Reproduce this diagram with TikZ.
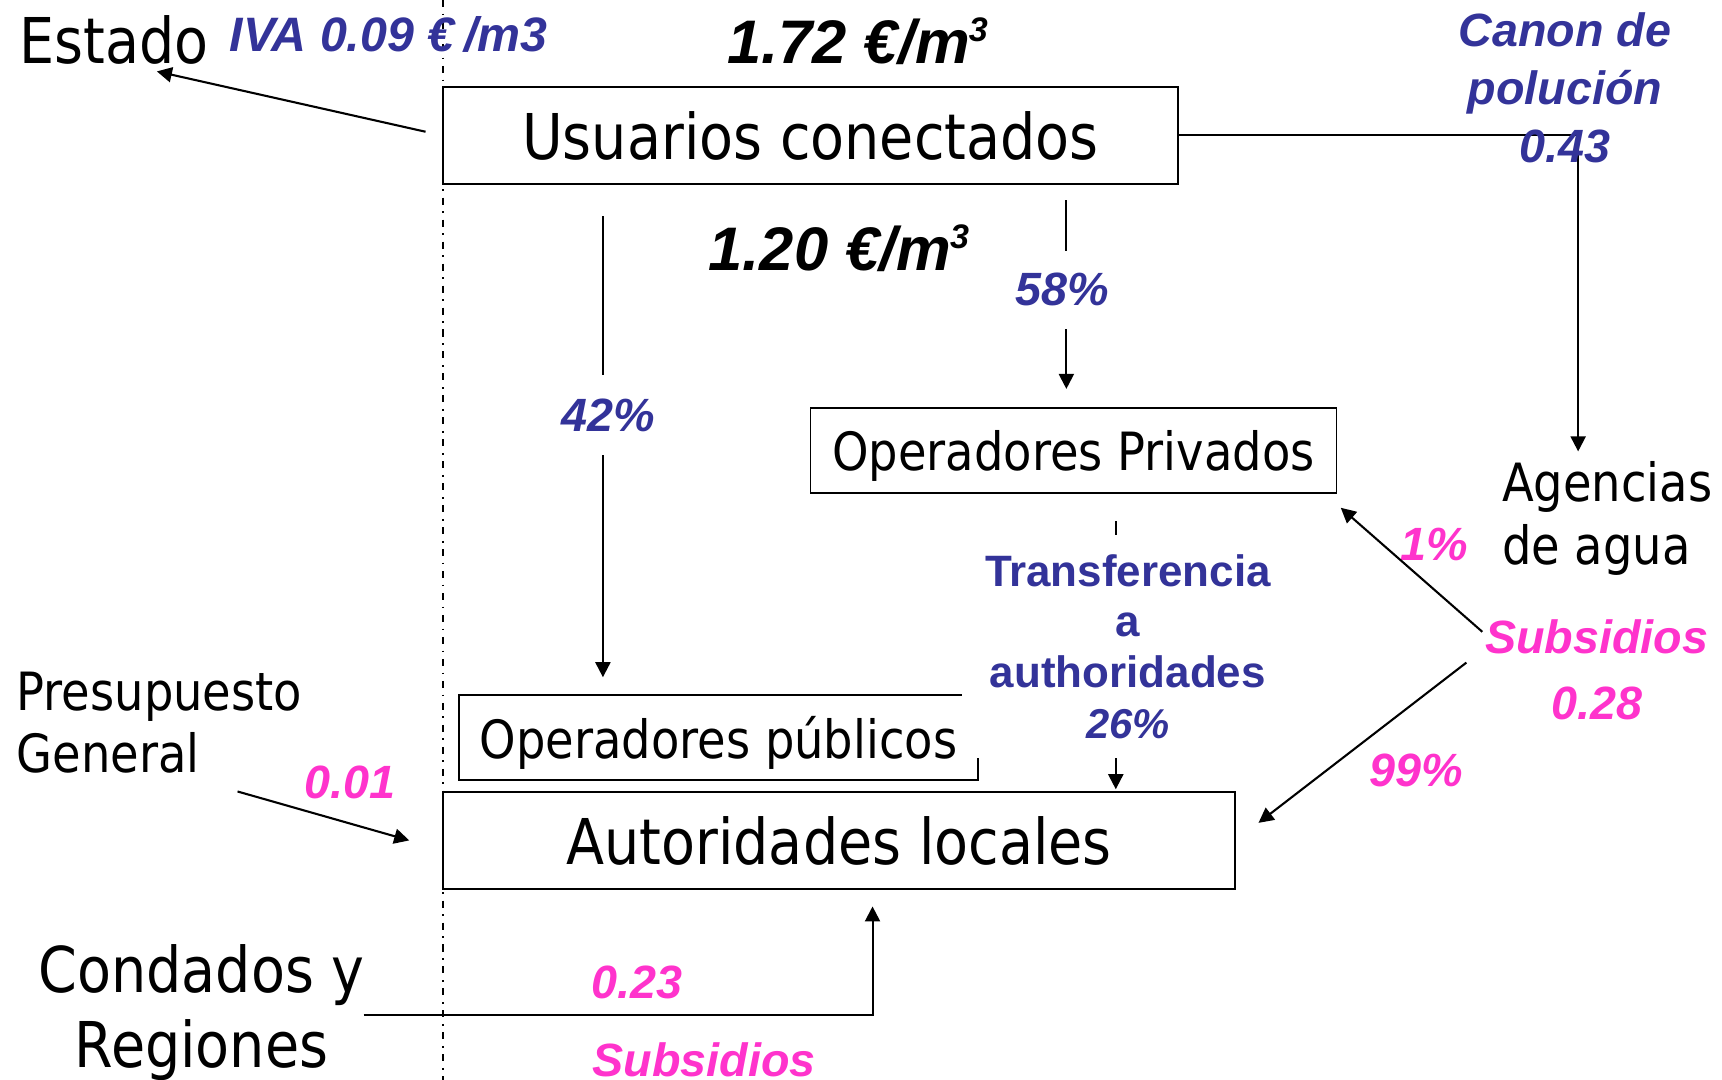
\documentclass[tikz,border=0pt]{standalone}
\usepackage{fontspec}
\setmainfont{DejaVu Sans}[FakeStretch=0.88]
\newfontfamily\lblfont{Liberation Sans}
\usetikzlibrary{arrows.meta,calc}
\definecolor{lblue}{RGB}{51,51,153}
\definecolor{lpink}{RGB}{255,51,204}
\newcommand\mycube{\kern-0.02em\raisebox{0.36em}{\fontsize{31}{31}\selectfont 3}}
\begin{document}
\begin{tikzpicture}[x=1pt,y=-1pt,
  boxnode/.style={draw, line width=1.7pt, inner sep=0pt, text depth=0pt},
  big/.style={font=\fontsize{57.5}{65}\selectfont},
  mid/.style={font=\fontsize{48}{57}\selectfont},
  plain/.style={inner sep=0pt},
  bluelbl/.style={inner sep=0pt, text=lblue, font=\lblfont\bfseries\itshape\fontsize{42.5}{52.5}\selectfont},
  pinklbl/.style={inner sep=0pt, text=lpink, font=\lblfont\bfseries\itshape\fontsize{42.5}{59.4}\selectfont},
  blacklbl/.style={inner sep=0pt, font=\lblfont\bfseries\itshape\fontsize{56}{60}\selectfont},
  conn/.style={line width=1.9pt, -{Triangle[length=13.7pt,width=13.7pt]}},
  gapfill/.style={fill=white, inner ysep=0pt, inner xsep=2pt}]
\useasboundingbox (0,0) rectangle (1568,983.4);

% dash-dot separator
\draw[line width=1.5pt, dash pattern=on 6.4pt off 6pt on 1.6pt off 6pt] (403.5,0) -- (403.5,983.4);

% boxes
\node[boxnode, big, minimum width=670pt, minimum height=88.5pt] (usuarios) at (738,123.25) {Usuarios conectados};
\node[boxnode, mid, minimum width=479pt, minimum height=77.5pt] (opriv) at (977.5,410.25) {Operadores Privados};
\node[boxnode, mid, minimum width=472.5pt, minimum height=77pt] (opub) at (654.25,671.5) {Operadores públicos};
\node[boxnode, big, minimum width=721pt, minimum height=88.5pt] (auto) at (764,765.25) {Autoridades locales};

% plain texts
\node[plain, big, anchor=base west] (estado) at (17.5,57.5) {Estado};
\node[plain, mid, anchor=base west, align=left] (agencias) at (1367.7,513.7) {Agencias\\de agua};
\node[plain, mid, anchor=base west, align=left] (presup) at (15,703.8) {Presupuesto\\General};
\node[plain, font=\fontsize{57.5}{69}\selectfont, anchor=base, align=center] (condados) at (183.5,972.3) {Condados y\\Regiones};

% helper x positions
\coordinate (c42) at (549,0);
\coordinate (c58) at (971,0);
\coordinate (c26) at (1016,0);

% connectors
\draw[conn, shorten <=15pt] (usuarios.west) -- ($(estado.south)+(39,6.5)$);
\draw[conn] (usuarios.east) -| ($(agencias.north west)+(69.3,-9)$);
\draw[conn, shorten <=14pt, shorten >=16.5pt] (usuarios.south -| c58) -- (opriv.north -| c58);
\draw[conn, shorten <=28.5pt, shorten >=15.5pt] (usuarios.south -| c42) -- (opub.north -| c42);
\draw[conn, shorten <=25pt, shorten >=1.5pt] (opriv.south -| c26) -- (auto.north -| c26);
\draw[conn, shorten >=15pt] ($(condados.east)+(-1,2.4)$) -| ($(auto.south)+(30.5,0)$);
\draw[conn] ($(presup.south east)+(-59,16)$) -- ($(auto.west)+(-30,0)$);

% price labels
\node[blacklbl, anchor=base west] (p172) at (662,57.5) {1.72 €/m\mycube};
\node[blacklbl, anchor=base west] (p120) at (645,246.5) {1.20 €/m\mycube};

% blue labels
\node[bluelbl, font=\lblfont\bfseries\itshape\fontsize{44}{50}\selectfont, anchor=base west] (iva) at (209,47)
  {IVA 0.09 €\kern.2em/m3};
\node[bluelbl, anchor=base, align=center] (canon) at (1425,147.6) {Canon de\\polución\\0.43};
\node[bluelbl, gapfill, minimum height=70.4pt] (l58) at (967.5,264) {58\%};
\node[bluelbl, gapfill, minimum height=72.3pt] (l42) at (554,378) {42\%};
\node[text=lblue, fill=white, anchor=base, align=center, inner xsep=21pt, inner ysep=17.5pt,
      font=\lblfont\bfseries\fontsize{40}{46}\selectfont] (transf) at (1027,672)
      {Transferencia\\a\\authoridades\\{\itshape\fontsize{38}{46}\selectfont 26\%}};

% pink labels
\node[pinklbl, anchor=base, align=center] (subsR) at (1454,654.8) {Subsidios\\0.28};
\node[pinklbl, anchor=base west] (l1) at (1275,510.6) {1\%};
\node[pinklbl, anchor=base] (l99) at (1289.5,716.3) {99\%};
\node[pinklbl, anchor=base] (l001) at (318.5,727) {0.01};
\node[pinklbl, anchor=base] (l023) at (580,909.3) {0.23};
\node[pinklbl, anchor=base] (subsB) at (641,979.8) {Subsidios};

% subsidy arrows
\draw[conn] ($(subsR.west)+(-2.5,-34.6)$) -- ($(opriv.south east)+(3,12.5)$);
\draw[conn] ($(subsR.west)+(-17,-6.6)$) -- ($(auto.east)+(20.6,-16)$);
\end{tikzpicture}
\end{document}
